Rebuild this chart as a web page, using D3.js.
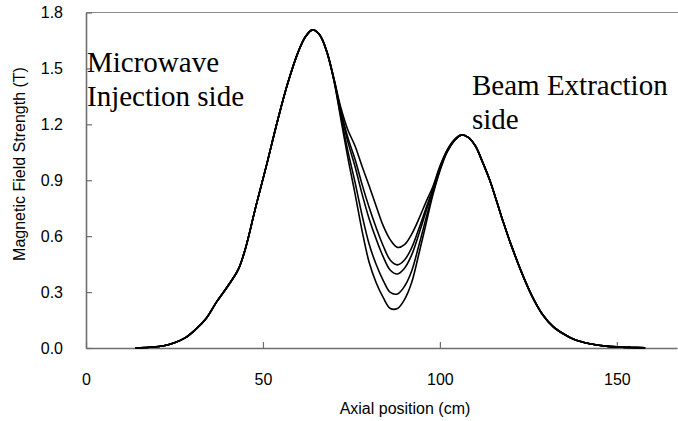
<!DOCTYPE html>
<html><head><meta charset="utf-8">
<script src="https://cdn.jsdelivr.net/npm/d3@7"></script>
<style>body{margin:0;background:#fff}</style>
</head><body>
<svg id="c" width="678" height="421"></svg>
<script>
// Shared rising flank (cm, T)
const xLeft = [14, 18, 22, 25, 28, 31, 34, 37, 40, 43, 45, 48, 51, 54, 57, 60, 62, 64];
const bLeft = [0.000, 0.004, 0.012, 0.028, 0.054, 0.100, 0.160, 0.250, 0.330, 0.420, 0.530, 0.760, 0.980, 1.210, 1.420, 1.590, 1.670, 1.707];
// Valley region, five field profiles
const xValley = [66, 68, 70, 72, 74, 76, 78, 80, 82, 84, 86, 88, 90, 92, 94, 96, 98, 100, 102, 104];
const bValley1 = [1.680, 1.590, 1.440, 1.230, 1.020, 0.830, 0.630, 0.460, 0.350, 0.270, 0.212, 0.212, 0.260, 0.350, 0.500, 0.660, 0.820, 0.950, 1.050, 1.110];
const bValley2 = [1.680, 1.591, 1.442, 1.244, 1.056, 0.891, 0.713, 0.558, 0.448, 0.362, 0.298, 0.290, 0.331, 0.412, 0.546, 0.689, 0.831, 0.956, 1.052, 1.111];
const bValley3 = [1.680, 1.593, 1.446, 1.264, 1.106, 0.975, 0.827, 0.694, 0.584, 0.489, 0.417, 0.397, 0.428, 0.498, 0.608, 0.728, 0.846, 0.964, 1.056, 1.113];
const bValley4 = [1.680, 1.594, 1.447, 1.273, 1.128, 1.014, 0.878, 0.755, 0.645, 0.547, 0.471, 0.446, 0.472, 0.537, 0.637, 0.746, 0.852, 0.968, 1.057, 1.114];
const bValley5 = [1.680, 1.595, 1.450, 1.290, 1.170, 1.085, 0.975, 0.870, 0.760, 0.655, 0.580, 0.540, 0.555, 0.610, 0.690, 0.780, 0.865, 0.975, 1.060, 1.115];
// Shared falling flank
const xRight = [106, 108, 110, 112, 114, 116, 118, 120, 123, 126, 129, 132, 135, 138, 141, 144, 147, 150, 154, 158];
const bRight = [1.142, 1.130, 1.085, 1.000, 0.905, 0.790, 0.670, 0.560, 0.410, 0.280, 0.180, 0.115, 0.075, 0.045, 0.028, 0.017, 0.010, 0.006, 0.003, 0.001];

const xTicks = [0, 50, 100, 150];
const yTicks = [0, 0.3, 0.6, 0.9, 1.2, 1.5, 1.8];
const xTitle = "Axial position (cm)";
const yTitle = "Magnetic Field Strength (T)";
const note1 = ["Microwave", "Injection side"];
const note2 = ["Beam Extraction", "side"];

const valleys = [bValley1, bValley2, bValley3, bValley4, bValley5];
const xs = xLeft.concat(xValley, xRight);
const series = valleys.map(v => xs.map((x, i) => [x, bLeft.concat(v, bRight)[i]]));

const svg = d3.select("#c");
svg.append("rect").attr("width", 678).attr("height", 421).attr("fill", "#fff");

const x = d3.scaleLinear().domain([0, 167]).range([86, 677]);
const y = d3.scaleLinear().domain([0, 1.8]).range([348, 12.5]);

const sans = "'Liberation Sans', Arial, sans-serif";
const serif = "'Liberation Serif', 'Times New Roman', serif";

// top border
svg.append("line").attr("x1", x(0)).attr("x2", 678).attr("y1", y(1.8)).attr("y2", y(1.8))
  .attr("stroke", "#8a8a8a").attr("stroke-width", 1.2);

const yAx = svg.append("g").attr("transform", `translate(${x(0)},0)`)
  .call(d3.axisLeft(y).tickValues(yTicks).tickSize(-6).tickSizeOuter(0).tickPadding(23).tickFormat(d3.format(".1f")));
const xAx = svg.append("g").attr("transform", `translate(0,${y(0)})`)
  .call(d3.axisBottom(x).tickValues(xTicks).tickSize(-6).tickSizeOuter(0).tickPadding(25).tickFormat(d3.format("d")));
[yAx, xAx].forEach(g => {
  g.select(".domain").attr("stroke", "#6e6e6e").attr("stroke-width", 1.6);
  g.selectAll(".tick line").attr("stroke", "#6e6e6e").attr("stroke-width", 1.2);
  g.selectAll("text").attr("fill", "#000").attr("font-family", sans).attr("font-size", 16);
});
xAx.selectAll("text").attr("dy", "0.35em").attr("y", 31);

const line = d3.line().x(d => x(d[0])).y(d => y(d[1])).curve(d3.curveCatmullRom.alpha(0.5));
svg.append("g").selectAll("path").data(series).join("path")
  .attr("d", line).attr("fill", "none").attr("stroke", "#000").attr("stroke-width", 1.6);

svg.append("text").attr("x", 405).attr("y", 414).attr("text-anchor", "middle")
  .attr("font-family", sans).attr("font-size", 16).text(xTitle);
svg.append("text").attr("transform", "translate(25,164) rotate(-90)").attr("text-anchor", "middle")
  .attr("font-family", sans).attr("font-size", 16).text(yTitle);

const n1 = svg.append("text").attr("font-family", serif).attr("font-size", 29).attr("fill", "#000");
note1.forEach((t, i) => n1.append("tspan").attr("x", 87).attr("y", 72 + i * 34).text(t));
const n2 = svg.append("text").attr("font-family", serif).attr("font-size", 29).attr("fill", "#000");
note2.forEach((t, i) => n2.append("tspan").attr("x", 472).attr("y", 95 + i * 34).text(t));
</script>
</body></html>
